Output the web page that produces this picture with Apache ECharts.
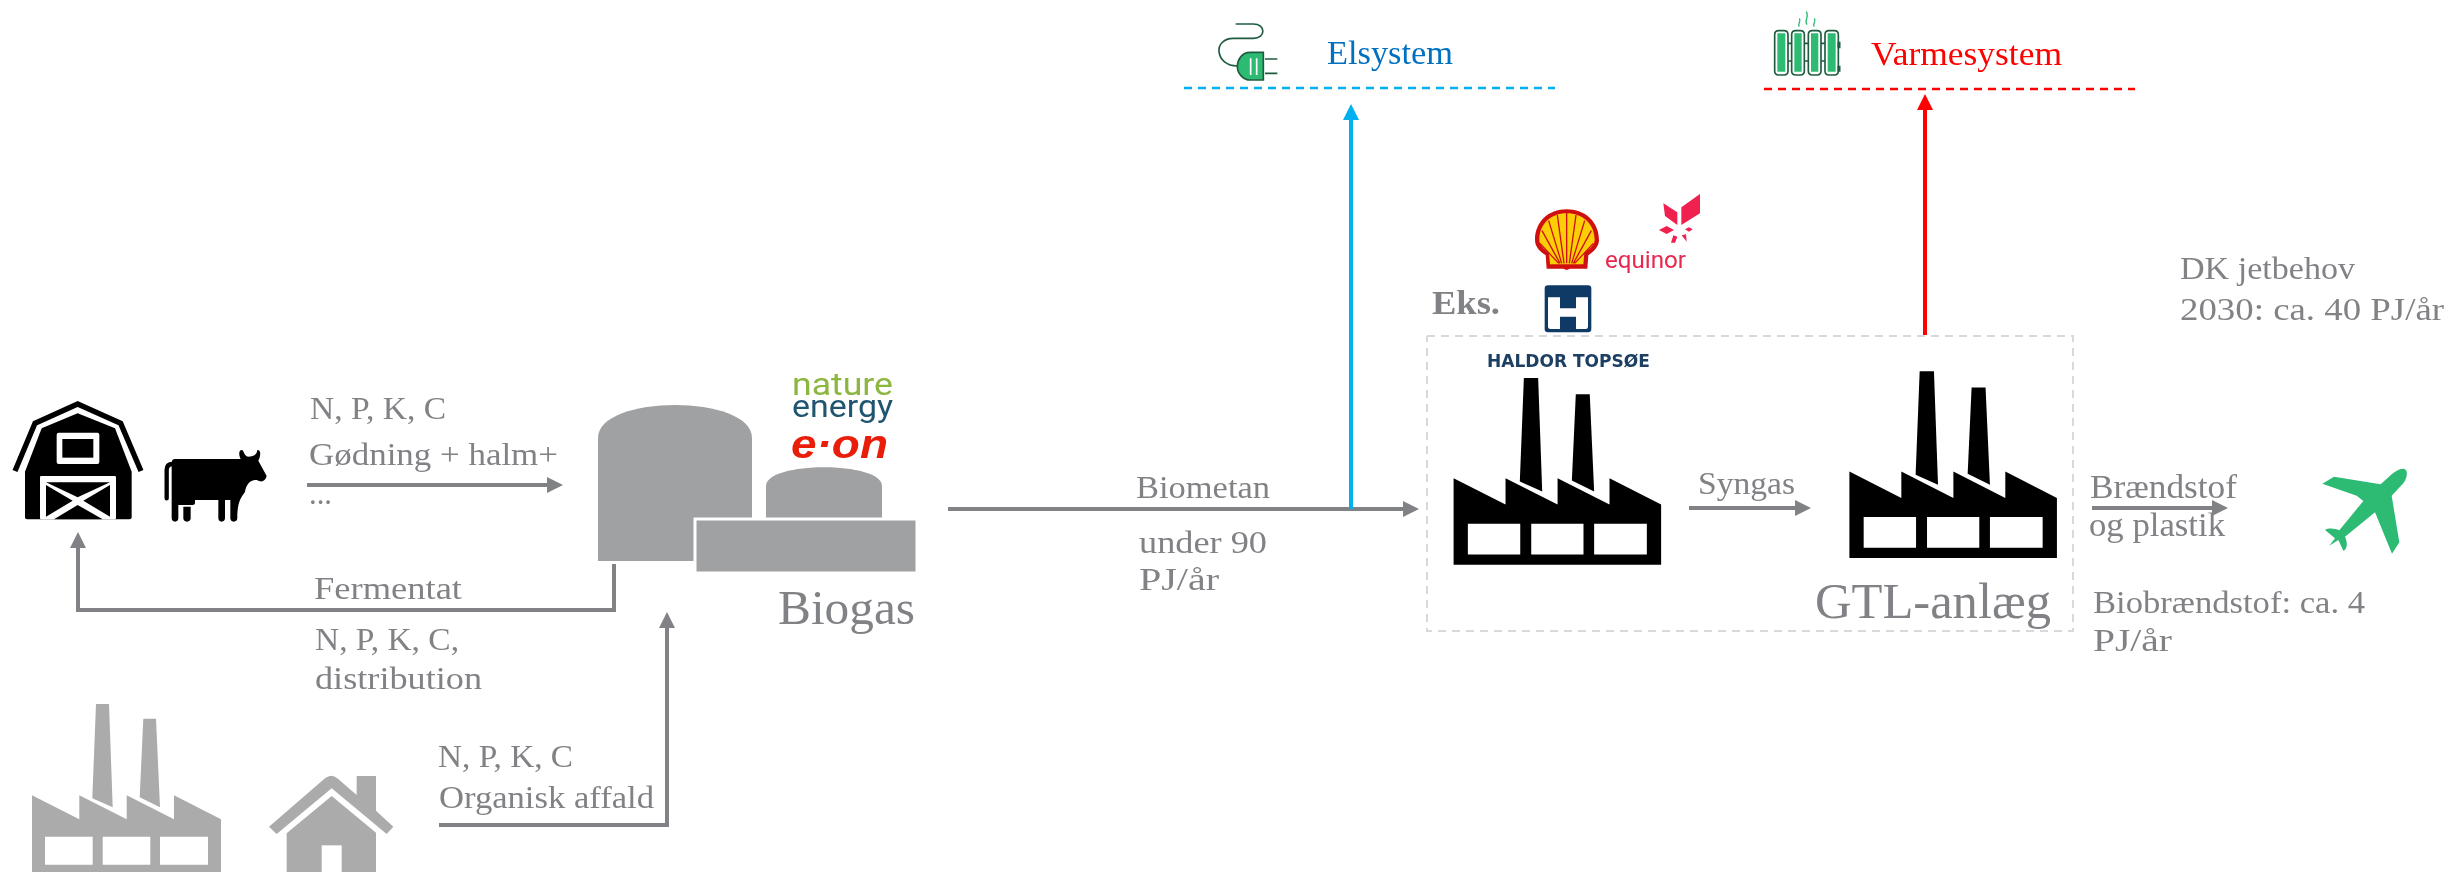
<!DOCTYPE html>
<html>
<head>
<meta charset="utf-8">
<title>Biogas og GTL-anlæg</title>
<script src="https://cdn.jsdelivr.net/npm/echarts@6/dist/echarts.min.js"></script>
<style>
  html, body { margin: 0; padding: 0; background: #fff; }
  #chart { width: 2450px; height: 872px; }
</style>
</head>
<body>
<div id="chart"></div>
<script>
// all texts of the diagram
const labelTexts = [
  'N, P, K, C', 'Gødning + halm+', '...', 'Fermentat', 'N, P, K, C,', 'distribution',
  'Biogas', 'N, P, K, C', 'Organisk affald', 'Biometan', 'under 90', 'PJ/år',
  'Elsystem', 'Varmesystem', 'Eks.', 'Syngas', 'GTL-anlæg', 'Brændstof', 'og plastik',
  'Biobrændstof: ca. 4', 'PJ/år', 'DK jetbehov', '2030: ca. 40 PJ/år'
]
const logoTexts = ['nature', 'energy', 'e·on', 'equinor', 'HALDOR TOPSØE']

// flow arrows, in diagram units (the hidden axes run 0-2450 and 0-872)
const flowNames = ['gødning', 'fermentat', 'affald', 'biometan', 'el', 'varme', 'syngas', 'brændstof']
const flowRoutes = [
  [[307, 485], [563, 485]],
  [[614, 564], [614, 610], [78, 610], [78, 532]],
  [[439, 825], [667, 825], [667, 612]],
  [[948, 509], [1419, 509]],
  [[1351, 509], [1351, 104]],
  [[1925, 335], [1925, 94]],
  [[1689, 508], [1811, 508]],
  [[2092, 508], [2228, 508]]
]
const dashedLines = [
  [[1184, 88], [1555, 88]],
  [[1764, 89], [2135, 89]],
  [[1427, 336], [2073, 336], [2073, 631], [1427, 631], [1427, 336]]
]

// layout of the texts, same order as labelTexts: x, baseline y, font size, colour, width, weight
const GREY = '#808285'
const labelLayout = [
  [310, 418, 32, GREY, 136], [309, 464, 32, GREY, 249], [309, 503, 32, GREY, 23], [314, 598, 32, GREY, 148],
  [315, 649, 32, GREY, 144], [315, 688, 32, GREY, 167], [778, 623, 48, GREY, 137], [438, 766, 32, GREY, 135],
  [439, 807, 32, GREY, 215], [1136, 497, 32, GREY, 134], [1139, 552, 32, GREY, 128], [1139, 589, 32, GREY, 80],
  [1327, 63, 33, '#0070c0', 126], [1871, 64, 33, '#ff0000', 191], [1432, 313, 34, GREY, 68, 'bold'], [1698, 493, 32, GREY, 97],
  [1815, 617, 50, GREY, 236], [2090, 497, 33, GREY, 147], [2089, 535, 33, GREY, 136], [2093, 612, 32, GREY, 272],
  [2093, 650, 32, GREY, 79], [2180, 278, 32, GREY, 175], [2180, 319, 32, GREY, 264]
]
const logoLayout = [
  [792, 395, 32, '#8cb63f', 101, 'normal', 'normal', 'Roboto'],
  [792, 417, 32, '#1f5570', 101, 'normal', 'normal', 'Roboto'],
  [791, 456, 40, '#ea1c0a', 97, 'bold', 'italic', 'Liberation Sans'],
  [1605, 268, 24, '#e8274f', 81, 'normal', 'normal', 'Roboto'],
  [1487, 367, 17, '#1d3f63', 163, 'bold', 'normal', 'DejaVu Sans']
]

function roundRect(x, y, w, h, r) {
  return 'M' + (x + r) + ',' + y + 'H' + (x + w - r) + 'Q' + (x + w) + ',' + y + ' ' + (x + w) + ',' + (y + r) +
    'V' + (y + h - r) + 'Q' + (x + w) + ',' + (y + h) + ' ' + (x + w - r) + ',' + (y + h) +
    'H' + (x + r) + 'Q' + x + ',' + (y + h) + ' ' + x + ',' + (y + h - r) +
    'V' + (y + r) + 'Q' + x + ',' + y + ' ' + (x + r) + ',' + y + 'Z'
}

const GREEN = '#2dbb74'
const DARK_GREEN = '#1f5c3f'
const NAVY = '#0f3a66'
const EQ_RED = '#f0204f'
const SHELL_RED = '#d01010'
const SHELL_YELLOW = '#fbce07'

// ink = the placement's colour
const iconParts = {
  factory: [
    { d: 'M64,0H77L80.7,103.3L60.3,94.3Z', fill: 'ink' },
    { d: 'M111.3,14.7H124L128,103.3L107.7,93.3Z', fill: 'ink' },
    { d: 'M0,91.3L47.3,115.3V91.3L94.7,115.3V91.3L142,115.3V91.3L189,115.3V170H0Z', fill: 'ink' },
    { d: 'M13,132.7H60.7V160.7H13Z M70.7,132.7H118.3V160.7H70.7Z M128,132.7H176V160.7H128Z', fill: '#fff' }
  ],
  house: [
    { d: 'M807,410L975,265Q995,250 1012,265L1070,315V258H1128V362L1180,410L1160,432L995,295L830,432Z', fill: 'ink' },
    { d: 'M860,430L995,318L1128,428V560H860Z', fill: 'ink' },
    { d: 'M965,466H1025V560H965Z', fill: '#fff' }
  ],
  barn: [
    { d: 'M45,243L105,100L233,42L362,100L423,243', stroke: 'ink', lineWidth: 16 },
    { d: 'M75,245L125,115L233,70L345,115L395,245V382Q395,388 388,388H82Q75,388 75,382Z', fill: 'ink' },
    { d: roundRect(170, 128, 128, 94, 6) + roundRect(120, 258, 228, 130, 4), fill: '#fff' },
    { d: 'M187,147H280V203H187Z', fill: 'ink' },
    { d: 'M138,277H330L233,322Z M138,285L218,332L138,380Z M330,285L250,332L330,380Z M162,388L233,345L308,388Z', fill: 'ink' }
  ],
  cow: [
    { d: 'M500,325V240Q500,222 518,222', stroke: 'ink', lineWidth: 13, lineCap: 'round' },
    { d: 'M525,207H722C716,195 716,180 725,180C733,180 730,198 745,200C760,200 770,195 772,180C782,178 784,195 775,212L800,258C795,275 785,278 770,270C750,268 738,285 735,305C727,320 712,328 712,385Q711,395 701,395Q692,395 691,385V330H675V385Q674,395 665,395Q656,395 655,385V330H585V340Q585,345 578,345H535V385Q534,395 525,395Q516,395 515,385V220Q515,207 525,207Z', fill: 'ink' },
    { d: 'M550,350H572V385Q571,395 561,395Q551,395 550,385Z', fill: 'ink' }
  ],
  biogas: [
    { d: 'M598,561V438C598,394 752,394 752,438V561Z', fill: '#a0a1a3' },
    { d: 'M766,520V486C766,461 882,461 882,486V520Z', fill: '#a0a1a3' },
    { d: 'M695,519H917V573H695Z', fill: '#a0a1a3', stroke: '#fff', lineWidth: 3 }
  ],
  plane: [
    { d: 'M283,42C295,45 292,70 280,85L245,122L268,262L246,296L195,172L105,245C115,265 110,285 100,287L85,255L58,272L75,250L45,225C55,218 75,220 88,226L160,138L140,122L37,86L72,65L212,88L245,58C262,45 275,40 283,42Z', fill: GREEN }
  ],
  plug: [
    { d: 'M107,42H160C198,42 198,85 160,85H100C70,85 55,105 57,125C60,150 80,168 112,168', stroke: DARK_GREEN, lineWidth: 5 },
    { d: 'M190,127H150C125,127 112,150 112,170C112,190 130,210 150,210H190Z', fill: GREEN, stroke: DARK_GREEN, lineWidth: 5 },
    { d: 'M152,145V195M170,145V195', stroke: '#fff', lineWidth: 5 },
    { d: 'M195,147H232M195,190H232', stroke: DARK_GREEN, lineWidth: 5 }
  ],
  radiator: [
    { d: 'M84,130H95M84,183H95M133,130H145M133,183H145M183,130H195M183,183H195', stroke: DARK_GREEN, lineWidth: 5 },
    { d: roundRect(44, 92, 40, 133, 12) + roundRect(95, 92, 38, 133, 12) + roundRect(145, 92, 38, 133, 12) + roundRect(195, 92, 40, 133, 12), fill: '#fff', stroke: DARK_GREEN, lineWidth: 5 },
    { d: 'M52,100H76V215H52Z M103,100H125V215H103Z M153,100H175V215H153Z M203,100H227V215H203Z', fill: GREEN },
    { d: 'M237,125V145M237,197V215', stroke: DARK_GREEN, lineWidth: 9 },
    { d: 'M118,80C110,70 126,66 118,55M141,74C131,60 149,52 139,35M163,80C155,70 171,66 163,55', stroke: GREEN, lineWidth: 4 }
  ],
  shell: [
    { d: 'M165,180C165,125 205,88 260,88C315,88 357,125 357,180C357,197 345,212 325,226L322,266H270L260,270L250,266H200L197,226C175,212 165,197 165,180Z', fill: SHELL_RED },
    { d: 'M178,180C178,132 212,100 260,100C308,100 344,132 344,180C344,193 332,205 313,218L310,253H210L207,218C188,205 178,193 178,180Z', fill: SHELL_YELLOW },
    { d: 'M260,250V98M252,250L232,105M268,250L288,105M245,250L206,122M275,250L314,122M240,250L186,152M280,250L334,152M236,250L180,190M284,250L340,190', stroke: SHELL_RED, lineWidth: 4 }
  ],
  equinor: [
    { d: 'M550,70L592,97V135L555,108Z M604,82L660,42V100L604,135Z M537,150L560,138L582,150L560,162Z M615,148L627,142L638,148L627,155Z M573,188L580,166L592,170L585,188Z M605,166L618,163L620,185Z', fill: EQ_RED }
  ],
  topsoe: [
    { d: roundRect(194, 316, 140, 141, 10), fill: NAVY },
    { d: 'M204,352H240V385H288V352H324V440Q324,447 317,447H288V410H240V447H211Q204,447 204,440Z', fill: '#fff' }
  ]
}

// where the icons go: name, x, y, scale, ink colour
const iconPlacement = [
  ['barn', 0, 390, 1 / 3, '#000'],
  ['cow', 0, 390, 1 / 3, '#000'],
  ['factory', 32, 704, 1, '#ababab'],
  ['house', 0, 690, 1 / 3, '#ababab'],
  ['biogas', 0, 0, 1, '#000'],
  ['factory', 1453.6, 378, 1.098, '#000'],
  ['factory', 1849.4, 371.3, 1.098, '#000'],
  ['plane', 2310, 455, 1 / 3, '#000'],
  ['plug', 1200, 10, 1 / 3, '#000'],
  ['radiator', 1760, 0, 1 / 3, '#000'],
  ['shell', 1480, 180, 1 / 3, '#000'],
  ['equinor', 1480, 180, 1 / 3, '#000'],
  ['topsoe', 1480, 180, 1 / 3, '#000']
]

const flowStyle = [
  [GREY, 4], [GREY, 4], [GREY, 4], [GREY, 4], ['#00b0f0', 4], ['#ff0000', 4], [GREY, 4], [GREY, 4]
]
const dashStyle = [['#00b0f0', 2.5], ['#ff0000', 2.5], ['#d9d9d9', 2]]
const HEAD_LEN = 16
const HEAD_HALF = 8
const BASELINE_SHIFT = 0.235

function renderIcon(params, api) {
  const place = iconPlacement[api.value(0)]
  const origin = api.coord([place[1], place[2]])
  const ink = function (c) { return c === 'ink' ? place[4] : c }
  return {
    type: 'group',
    children: iconParts[place[0]].map(function (p) {
      return {
        type: 'path',
        x: origin[0],
        y: origin[1],
        scaleX: place[3],
        scaleY: place[3],
        shape: { pathData: p.d },
        style: {
          fill: p.fill ? ink(p.fill) : 'none',
          stroke: p.stroke ? ink(p.stroke) : 'none',
          lineWidth: p.lineWidth || 0,
          lineCap: p.lineCap || 'butt',
          lineJoin: 'miter'
        }
      }
    })
  }
}

function renderFlow(params, api) {
  const i = api.value(0)
  const pts = flowRoutes[i].map(function (p) { return api.coord(p) })
  const tip = pts[pts.length - 1]
  const prev = pts[pts.length - 2]
  const len = Math.hypot(tip[0] - prev[0], tip[1] - prev[1])
  const ux = (tip[0] - prev[0]) / len
  const uy = (tip[1] - prev[1]) / len
  const base = [tip[0] - ux * HEAD_LEN, tip[1] - uy * HEAD_LEN]
  const body = pts.slice(0, -1).concat([base])
  return {
    type: 'group',
    children: [
      {
        type: 'polyline',
        shape: { points: body },
        style: { fill: 'none', stroke: flowStyle[i][0], lineWidth: flowStyle[i][1], lineJoin: 'miter' }
      },
      {
        type: 'polygon',
        shape: {
          points: [tip, [base[0] - uy * HEAD_HALF, base[1] + ux * HEAD_HALF], [base[0] + uy * HEAD_HALF, base[1] - ux * HEAD_HALF]]
        },
        style: { fill: flowStyle[i][0] }
      }
    ]
  }
}

function renderDash(params, api) {
  const i = api.value(0)
  return {
    type: 'polyline',
    shape: { points: dashedLines[i].map(function (p) { return api.coord(p) }) },
    style: { fill: 'none', stroke: dashStyle[i][0], lineWidth: dashStyle[i][1], lineDash: [8, 6] }
  }
}

// the original face (Georgia) is not installed, so the serif is widened to the reference's text widths
const measure = document.createElement('canvas').getContext('2d')

function textElement(api, text, l) {
  const c = api.coord([l[0], l[1] - l[2] * BASELINE_SHIFT])
  const font = (l[6] || 'normal') + ' ' + (l[5] || 'normal') + ' ' + l[2] + 'px "' + (l[7] || 'Liberation Serif') + '"'
  measure.font = font
  return {
    type: 'text',
    x: c[0],
    y: c[1],
    scaleX: l[4] / measure.measureText(text).width,
    style: { text: text, fill: l[3], font: font, align: 'left', verticalAlign: 'middle' }
  }
}

function indexes(list) {
  return list.map(function (_, i) { return [i] })
}

const chart = echarts.init(document.getElementById('chart'))
chart.setOption({
  backgroundColor: '#fff',
  animation: false,
  tooltip: { show: false },
  grid: { left: 0, right: 0, top: 0, bottom: 0 },
  xAxis: { type: 'value', min: 0, max: 2450, show: false },
  yAxis: { type: 'value', min: 0, max: 872, inverse: true, show: false },
  series: [
    { type: 'custom', name: 'ikoner', clip: false, silent: true, z: 2, data: indexes(iconPlacement), renderItem: renderIcon },
    { type: 'custom', name: 'strømme', clip: false, silent: true, z: 3, data: indexes(flowNames), renderItem: renderFlow },
    { type: 'custom', name: 'rammer', clip: false, silent: true, z: 1, data: indexes(dashedLines), renderItem: renderDash },
    {
      type: 'custom', name: 'tekst', clip: false, silent: true, z: 4, data: indexes(labelTexts),
      renderItem: function (params, api) {
        const i = api.value(0)
        return textElement(api, labelTexts[i], labelLayout[i])
      }
    },
    {
      type: 'custom', name: 'logoer', clip: false, silent: true, z: 4, data: indexes(logoTexts),
      renderItem: function (params, api) {
        const i = api.value(0)
        return textElement(api, logoTexts[i], logoLayout[i])
      }
    }
  ]
})
</script>
</body>
</html>
